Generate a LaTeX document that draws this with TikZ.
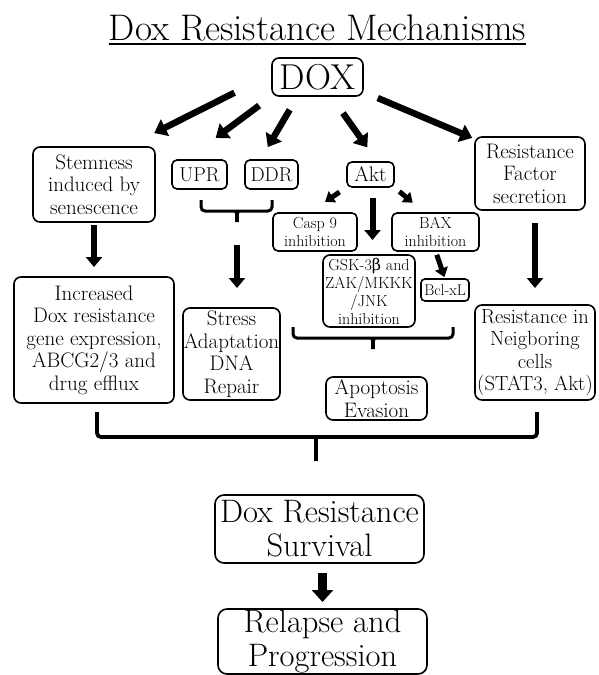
\documentclass[tikz,border=0pt]{standalone}
\usepackage{fontspec}
\newfontfamily\grk{DejaVu Serif}
\usepackage{tikz}
\usetikzlibrary{arrows.meta,positioning}

\tikzset{
  box/.style={draw, line width=1.6pt, rounded corners=7pt, align=center, inner sep=0pt, outer sep=0pt},
  txt/.style={font=\fontsize{21}{22.5}\selectfont},
  smalltxt/.style={font=\fontsize{16}{18}\selectfont},
  largetxt/.style={font=\fontsize{32.5}{34}\selectfont},
  fat/.style={line width=6.5pt, -{Triangle[length=12pt,width=18pt]}},
  down/.style={line width=6pt, -{Triangle[length=10pt,width=16pt]}},
  tiny/.style={line width=5pt, -{Triangle[length=9pt,width=13pt]}},
  big/.style={line width=9pt, -{Triangle[length=12pt,width=21pt]}}
}

\begin{document}
\begin{tikzpicture}[x=1pt,y=-1pt]
  \useasboundingbox (0,0) rectangle (598,675);
  % Title
  \node[anchor=base, inner sep=0pt, font=\fontsize{37}{40}\selectfont] (title) at (317.5,40) {Dox Resistance Mechanisms};
  \draw[line width=1.5pt] ([yshift=-4pt]title.base west) -- ([yshift=-4pt]title.base east);
  % Top row
  \node[box, minimum width=91pt, minimum height=38pt, font=\fontsize{36}{38}\selectfont] (dox) at (317.5,77) {DOX};
  \node[box, txt, minimum width=122pt, minimum height=75pt] (stem) at (94,184.5) {Stemness\\induced by\\senescence};
  \node[box, rounded corners=5pt, minimum width=55pt, minimum height=29pt, font=\fontsize{20}{22}\selectfont] (upr) at (199.5,174.5) {UPR};
  \node[box, rounded corners=5pt, minimum width=53pt, minimum height=29pt, font=\fontsize{20}{22}\selectfont] (ddr) at (271.5,174.5) {DDR};
  \node[box, txt, rounded corners=5pt, minimum width=47pt, minimum height=25pt] (akt) at (370.5,174.5) {Akt};
  \node[box, txt, minimum width=110pt, minimum height=73pt] (rf) at (530,173.5) {Resistance\\Factor\\secretion};
  % Akt branch
  \node[box, smalltxt, rounded corners=5pt, minimum width=84pt, minimum height=38pt] (casp) at (315,232) {Casp 9\\inhibition};
  \node[box, smalltxt, rounded corners=5pt, minimum width=87pt, minimum height=38pt] (bax) at (435.5,232) {BAX\\inhibition};
  \node[box, smalltxt, minimum width=92pt, minimum height=72pt] (gsk) at (369,291) {GSK-3{\grk β} and\\ZAK/MKKK\\/JNK\\inhibition};
  \node[box, rounded corners=4pt, minimum width=48pt, minimum height=22pt, font=\fontsize{15.5}{17}\selectfont] (bcl) at (445,290) {Bcl-xL};
  % Outcomes
  \node[box, txt, minimum width=160pt, minimum height=126pt] (inc) at (94,340) {Increased\\Dox resistance\\gene expression,\\ABCG2/3 and\\drug efflux};
  \node[box, txt, minimum width=97pt, minimum height=92pt] (stress) at (231.5,354) {Stress\\Adaptation\\DNA\\Repair};
  \node[box, txt, minimum width=101pt, minimum height=43pt] (apo) at (376.5,398.5) {Apoptosis\\Evasion};
  \node[box, minimum width=120pt, minimum height=95pt, font=\fontsize{20.5}{22.5}\selectfont] (rn) at (535,352.5) {Resistance in\\Neigboring\\cells\\(STAT3, Akt)};
  \node[box, largetxt, rounded corners=9pt, minimum width=209pt, minimum height=68pt] (surv) at (319.5,529) {Dox Resistance\\Survival};
  \node[box, largetxt, rounded corners=9pt, minimum width=209pt, minimum height=65pt] (rel) at (322.5,641.5) {Relapse and\\Progression};
  % Brackets
  \foreach \xa/\xb/\xt/\ya/\yb/\yc/\lw in {201/272/237/200/211/222/3, 293/453/373/327/338/349/3, 97/537/316/412/437/461/3.8} {
    \draw[line width=\lw pt, rounded corners=4pt] (\xa,\ya) |- (\xb,\yb) -- (\xb,\ya);
    \fill (\xt-6,\yb) .. controls (\xt-1.8,\yb) and (\xt-1.8,\yb+2) .. (\xt-1.8,\yb+7)
      -- (\xt-1.8,\yc) -- (\xt+1.8,\yc) -- (\xt+1.8,\yb+7)
      .. controls (\xt+1.8,\yb+2) and (\xt+1.8,\yb) .. (\xt+6,\yb) -- cycle;
  }
  \coordinate (t1) at (237,222);
  % Arrows from DOX
  \draw[fat, shorten <=42pt, shorten >=31pt] (dox.176) -- (stem.49);
  \draw[fat, shorten <=16pt, shorten >=37pt] (dox.south west) -- (upr.133);
  \draw[fat, shorten <=16pt, shorten >=15pt] (dox.224) -- (ddr.128);
  \draw[fat, shorten <=21pt, shorten >=18pt] (dox.305) -- (akt.60);
  \draw[fat, shorten <=16pt, shorten >=3pt] (dox.342) -- (rf.148);
  % Downward arrows
  \draw[down, shorten <=3pt, shorten >=10pt] (stem.south) -- (inc.north);
  \draw[down, shorten <=23pt, shorten >=20pt] (t1) -- (t1 |- stress.north);
  \draw[down, shorten <=11pt, shorten >=15pt] ([xshift=2pt]akt.south) -- ([xshift=2pt]akt.south |- gsk.north);
  \draw[down, shorten <=13pt, shorten >=17pt] (rn.north |- rf.south) -- (rn.north);
  \draw[tiny, shorten <=9pt, shorten >=20pt] (akt.south west) -- (casp.109);
  \draw[tiny, shorten <=7pt, shorten >=16pt] (akt.south east) -- (bax.119);
  \draw[tiny, shorten <=4pt, shorten >=2pt] (bax.south) -- (bcl.north);
  \draw[big, shorten <=10pt, shorten >=7pt] (rel.north |- surv.south) -- (rel.north);
\end{tikzpicture}
\end{document}
